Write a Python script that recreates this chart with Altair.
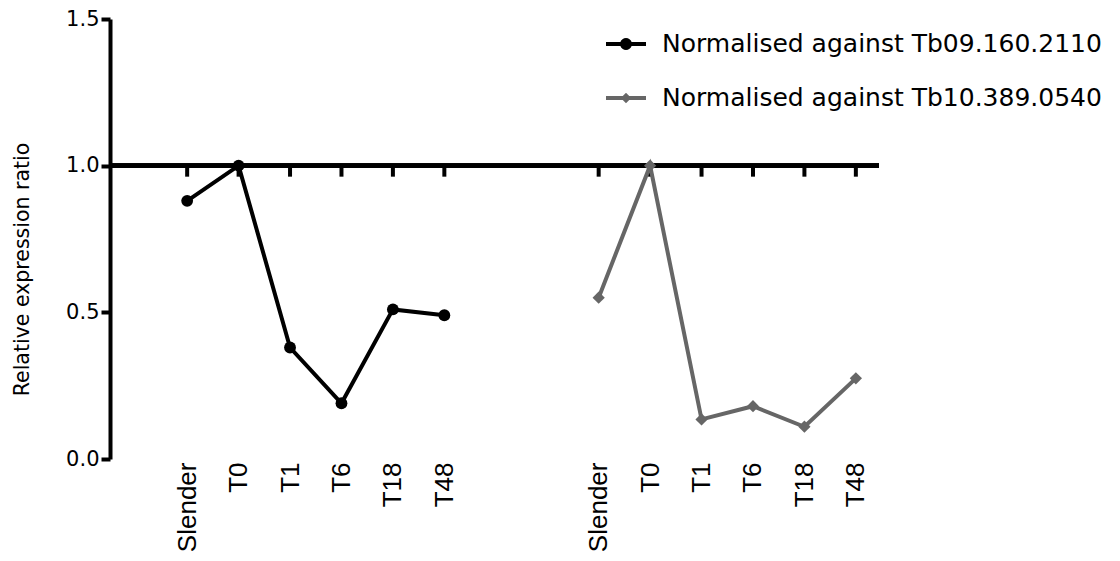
import math
import altair as alt
import pandas as pd

# Time points measured for each normalisation
stages = ["Slender", "T0", "T1", "T6", "T18", "T48"]
series_names = [
    "Normalised against Tb09.160.2110",
    "Normalised against Tb10.389.0540",
]
ratio_2110 = [0.88, 1.00, 0.38, 0.19, 0.51, 0.49]
ratio_0540 = [0.55, 1.00, 0.135, 0.18, 0.11, 0.275]
series_colors = ["#000000", "#666666"]

GROUP_GAP = 8  # slots between the start of the two groups

rows = []
for g, (name, vals) in enumerate(zip(series_names, [ratio_2110, ratio_0540])):
    for i, (stage, v) in enumerate(zip(stages, vals)):
        rows.append({"series": name, "stage": stage, "pos": g * GROUP_GAP + i, "ratio": v})
df = pd.DataFrame(rows)
positions = list(df["pos"])

W, H = 769, 440
label_js = "[" + ",".join(f"'{s}'" for s in stages) + "]"

x_enc = alt.X(
    "pos:Q",
    scale=alt.Scale(domain=[-1.5, 13.45], nice=False, zero=False),
    axis=alt.Axis(
        title=None, values=positions, labelExpr=f"{label_js}[datum.value % {GROUP_GAP}]",
        domain=False, ticks=False, grid=False, labelAngle=270, labelAlign="right",
        labelBaseline="middle", labelFont="Liberation Sans", labelFontSize=26,
        labelColor="black", labelPadding=3, labelOverlap=False, labelFlush=False,
        labelBound=False,
    ),
)
y_enc = alt.Y(
    "ratio:Q",
    scale=alt.Scale(domain=[0, 1.5], nice=False, zero=True),
    axis=alt.Axis(
        title="Relative expression ratio", values=[0, 0.5, 1.0, 1.5], format=".1f",
        grid=False, domainColor="black", domainWidth=4, tickColor="black", tickWidth=4,
        tickSize=9, labelFont="DejaVu Sans", labelFontSize=21, labelColor="black",
        labelPadding=2, titleFont="DejaVu Sans", titleFontSize=20.5,
        titleFontWeight="normal", titleColor="black", titleX=-88, titleY=250,
        titleAlign="center", titleBaseline="middle", titleAngle=270,
    ),
)

base = alt.Chart(df)

# horizontal reference line at ratio 1 with a tick below each time point
baseline = base.mark_rule(color="black", strokeWidth=4).encode(y=alt.datum(1.0))
ticks = base.mark_tick(orient="vertical", color="black", opacity=1, thickness=4, size=12, yOffset=5).encode(
    x=x_enc, y=alt.datum(1.0)
)

s1 = base.transform_filter(alt.datum.series == series_names[0])
s2 = base.transform_filter(alt.datum.series == series_names[1])

line1 = s1.mark_line(strokeWidth=4, color=series_colors[0]).encode(x=x_enc, y=y_enc)
line2 = s2.mark_line(strokeWidth=4, color=series_colors[1]).encode(x=x_enc, y=y_enc)
dots = s1.mark_point(shape="circle", filled=True, size=140, color=series_colors[0], opacity=1).encode(
    x=x_enc, y=y_enc
)
diamonds = s2.mark_point(shape="diamond", filled=True, size=150, color=series_colors[1], opacity=1).encode(
    x=x_enc, y=y_enc
)


# legend symbols: a short line segment with the series marker on it (unit square coords)
def line_with_marker(marker_pts):
    bar = "M-1,-0.1L1,-0.1L1,0.1L-1,0.1Z"
    mk = "M" + "L".join(f"{px:.3f},{py:.3f}" for px, py in marker_pts) + "Z"
    return bar + " " + mk


circle_pts = [(0.3 * math.cos(2 * math.pi * k / 20), 0.3 * math.sin(2 * math.pi * k / 20)) for k in range(20)]
diamond_pts = [(0, -0.26), (0.26, 0), (0, 0.26), (-0.26, 0)]
legend_shapes = [line_with_marker(circle_pts), line_with_marker(diamond_pts)]

legend_def = alt.Legend(
    title=None, orient="none", legendX=495, legendY=4, padding=0,
    labelFont="DejaVu Sans", labelFontSize=25, labelColor="black", labelOffset=15,
    labelLimit=700, symbolSize=1600, rowPadding=20, symbolOpacity=1,
)
# legend-only layer: no rows pass the filter, the legend is built from the scale domain
legend_layer = base.transform_filter("datum.ratio > 10").mark_point(filled=True).encode(
    x=x_enc, y=y_enc,
    color=alt.Color("series:N", scale=alt.Scale(domain=series_names, range=series_colors),
                    legend=legend_def),
    shape=alt.Shape("series:N", scale=alt.Scale(domain=series_names, range=legend_shapes),
                    legend=legend_def),
)

chart = (
    alt.layer(baseline, ticks, line1, line2, dots, diamonds, legend_layer)
    .properties(width=W, height=H, padding={"left": 110, "top": 19, "right": 241, "bottom": 102},
                autosize=alt.AutoSizeParams(type="none"), background="white")
    .configure_view(strokeWidth=0, stroke="transparent")
)

chart.save("out.html", embed_options={"renderer": "svg", "actions": False})
